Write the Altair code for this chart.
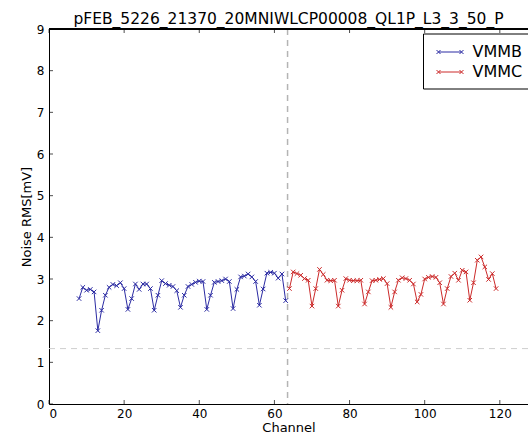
import altair as alt
import pandas as pd

# ---- data ----
vmmb_channels = list(range(8, 64))
vmmb_noise = [2.53, 2.80, 2.73, 2.75, 2.69, 1.76, 2.25, 2.61, 2.80, 2.87,
              2.84, 2.91, 2.77, 2.27, 2.53, 2.88, 2.75, 2.88, 2.88, 2.77,
              2.25, 2.61, 2.96, 2.89, 2.85, 2.82, 2.72, 2.32, 2.61, 2.82,
              2.87, 2.92, 2.95, 2.94, 2.27, 2.61, 2.92, 2.94, 2.96, 3.00,
              2.94, 2.29, 2.75, 3.05, 3.07, 3.12, 3.05, 2.94, 2.37, 2.76,
              3.14, 3.16, 3.14, 3.02, 3.12, 2.48]
vmmc_channels = list(range(64, 120))
vmmc_noise = [2.77, 3.17, 3.13, 3.09, 3.01, 2.97, 2.35, 2.77, 3.23, 3.11,
              2.97, 2.96, 2.97, 2.35, 2.73, 3.01, 2.97, 2.96, 2.96, 2.97,
              2.40, 2.69, 2.96, 2.97, 2.99, 3.01, 2.89, 2.32, 2.69, 2.97,
              3.03, 3.01, 2.97, 2.88, 2.45, 2.63, 3.00, 3.04, 3.06, 3.04,
              2.91, 2.40, 2.77, 3.06, 3.14, 2.97, 3.21, 3.17, 2.49, 2.91,
              3.45, 3.53, 3.29, 2.99, 3.13, 2.77]
series_names = ["VMMB", "VMMC"]
series_colors = ["#2b2ba3", "#cc2a2a"]
vline_x = [63.5]
hline_y = [1.33]
x_ticks = [0, 20, 40, 60, 80, 100, 120]
y_ticks = [0, 1, 2, 3, 4, 5, 6, 7, 8, 9]
title_text = "pFEB_5226_21370_20MNIWLCP00008_QL1P_L3_3_50_P"

W, H = 479, 375
FONT = "DejaVu Sans"

df = pd.DataFrame({
    "channel": vmmb_channels + vmmc_channels,
    "noise": vmmb_noise + vmmc_noise,
    "series": [series_names[0]] * len(vmmb_channels) + [series_names[1]] * len(vmmc_channels),
})

xscale = alt.Scale(domain=[0, 127.5], nice=False, zero=False)
yscale = alt.Scale(domain=[0, 9], nice=False)

XMARK = "M-1,-1L1,1M-1,1L1,-1"
LEGEND_SYMBOL = ("M-1.15,0L1.15,0"
                 "M-1.35,-0.2L-0.95,0.2M-1.35,0.2L-0.95,-0.2"
                 "M0.95,-0.2L1.35,0.2M0.95,0.2L1.35,-0.2")

color = alt.Color(
    "series:N",
    scale=alt.Scale(domain=series_names, range=series_colors),
    legend=alt.Legend(
        title=None, orient="none", legendX=374, legendY=4.5,
        symbolType=LEGEND_SYMBOL, symbolSize=400, symbolStrokeWidth=1,
        symbolFillColor="transparent", symbolOffset=8.5,
        labelFont=FONT, labelFontSize=16, labelColor="black", labelOffset=12,
        padding=8, rowPadding=1, strokeColor="black", fillColor="white",
        cornerRadius=0,
    ),
)

base = alt.Chart(df)

lines = base.mark_line(strokeWidth=1).encode(
    x=alt.X("channel:Q", scale=xscale,
            axis=alt.Axis(values=x_ticks, title="Channel", grid=False, ticks=False,
                          labelPadding=4, titlePadding=2, format="d")),
    y=alt.Y("noise:Q", scale=yscale,
            axis=alt.Axis(values=y_ticks, title="Noise RMS[mV]", grid=False, ticks=False,
                          labelPadding=5, titlePadding=3, format="d")),
    color=color,
)

points = base.mark_point(shape=XMARK, size=20, strokeWidth=1, filled=False, opacity=1).encode(
    x=alt.X("channel:Q", scale=xscale),
    y=alt.Y("noise:Q", scale=yscale),
    color=color,
)

vline = alt.Chart(pd.DataFrame({"x": vline_x})).mark_rule(
    color="#b4b4b4", strokeWidth=1.5, strokeDash=[6, 5]
).encode(x=alt.X("x:Q", scale=xscale))

hline = alt.Chart(pd.DataFrame({"y": hline_y})).mark_rule(
    color="#cfcfcf", strokeWidth=1, strokeDash=[6, 5]
).encode(y=alt.Y("y:Q", scale=yscale))

xt = pd.DataFrame({"t": x_ticks})
yt = pd.DataFrame({"t": y_ticks})
ticks_bottom = alt.Chart(xt).mark_tick(orient="vertical", color="black", thickness=1, size=4).encode(
    x=alt.X("t:Q", scale=xscale), y=alt.value(H - 2))
ticks_top = alt.Chart(xt).mark_tick(orient="vertical", color="black", thickness=1, size=4).encode(
    x=alt.X("t:Q", scale=xscale), y=alt.value(2))
ticks_left = alt.Chart(yt).mark_tick(orient="horizontal", color="black", thickness=1, size=4).encode(
    y=alt.Y("t:Q", scale=yscale), x=alt.value(2))

top_frame = alt.Chart(xt).mark_rule(color="black", strokeWidth=1).encode(
    x=alt.value(0), x2=alt.value(W), y=alt.value(0))

chart = alt.layer(
    hline, vline, lines, points, ticks_bottom, ticks_top, ticks_left, top_frame
).properties(
    width=W, height=H,
    title=alt.TitleParams(title_text, font=FONT, fontSize=15.5, fontWeight="normal",
                          color="black", anchor="middle", baseline="alphabetic", offset=4,
                          frame="group", dy=20),
    padding={"left": 49, "top": 29, "right": 0, "bottom": 36},
    autosize=alt.AutoSizeParams(type="none"),
).configure_view(stroke=None).configure_axis(
    domainColor="black", domainWidth=1,
    labelFont=FONT, labelFontSize=12, labelColor="black",
    titleFont=FONT, titleFontSize=13, titleColor="black", titleFontWeight="normal",
)

chart.save("out.html", embed_options={"renderer": "svg", "actions": False})
